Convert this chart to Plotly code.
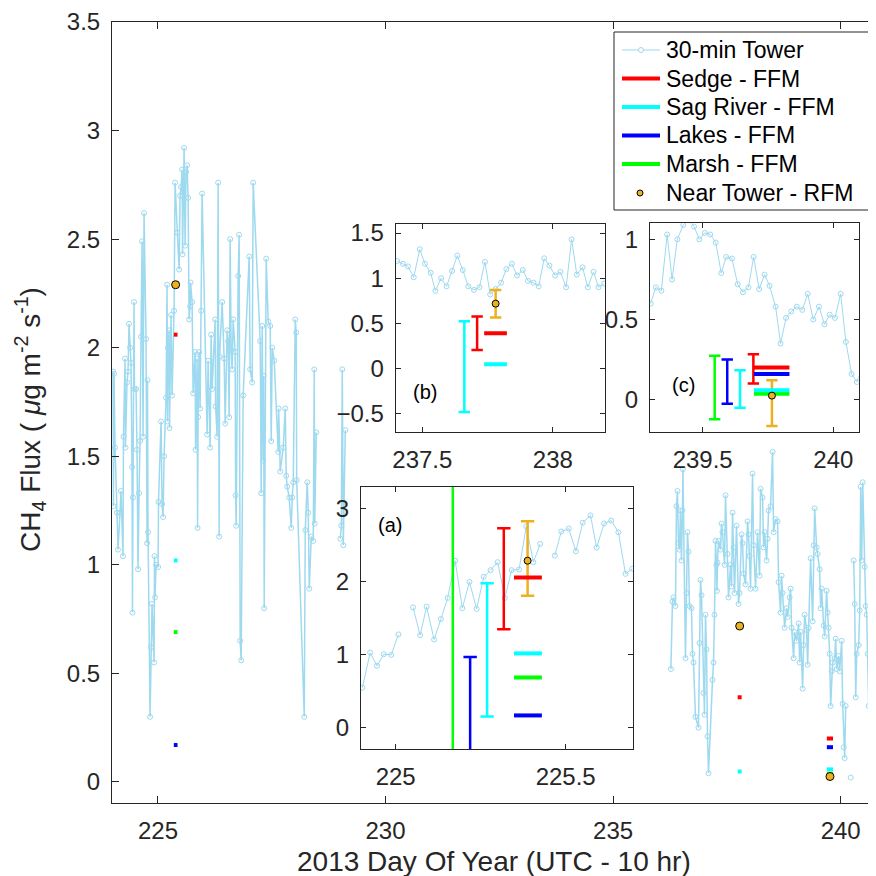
import plotly.graph_objects as go

W = H = 876
OFF = 8  # page body margin of the browser: shift everything up/left by this much
FONT = "Liberation Sans"
INK = "#262626"
TOWER_C = "#9dd9ef"
RED, CYAN, BLUE, GREEN, ORANGE = "#ff0000", "#00ffff", "#0000ff", "#00ff00", "#edb120"

# ---------------- main-panel 30-min tower series ----------------
tower_day_left = [224.012, 224.022, 224.034, 224.056, 224.100, 224.122, 224.166, 224.188, 224.232, 224.242,
                  224.276, 224.286, 224.320, 224.342, 224.364, 224.386, 224.408, 224.430, 224.440, 224.450,
                  224.474, 224.484, 224.518, 224.540, 224.562, 224.584, 224.606, 224.628, 224.650, 224.672,
                  224.694, 224.738, 224.760, 224.770, 224.782, 224.826, 224.848, 224.870, 224.914, 224.924,
                  224.936, 224.958, 225.002, 225.012, 225.068, 225.090, 225.112, 225.134, 225.178, 225.200,
                  225.210, 225.222, 225.244, 225.254, 225.288, 225.310, 225.354, 225.376, 225.420, 225.464,
                  225.486, 225.508, 225.530, 225.540, 225.574, 225.596, 225.618, 225.640, 225.662, 225.684,
                  225.706, 225.716, 225.750, 225.772, 225.816, 225.826, 225.860, 225.870, 225.882, 225.904,
                  225.926, 225.948, 225.970, 226.080, 226.102, 226.146, 226.168, 226.190, 226.256, 226.266,
                  226.300, 226.322, 226.344, 226.354, 226.410, 226.454, 226.476, 226.520, 226.542, 226.564,
                  226.586, 226.608, 226.630, 226.652, 226.696, 226.706, 226.718, 226.762, 226.784, 226.806,
                  226.828, 226.872, 227.004, 227.026, 227.070, 227.092, 227.246, 227.268, 227.290, 227.312,
                  227.322, 227.334, 227.378, 227.422, 227.466, 227.488, 227.510, 227.554, 227.642, 227.652,
                  227.686, 227.752, 227.796, 227.818, 227.840, 227.884, 227.928, 227.950, 227.972, 228.016,
                  228.038, 228.048, 228.214, 228.236, 228.280, 228.302, 228.324, 228.368, 228.412, 228.434,
                  228.444, 228.478, None, 229.006, 229.028, 229.050, 229.072, 229.116]
tower_flux_left = [1.89, 1.27, 1.88, 1.54, 1.24, 1.07, 1.24, 1.34, 1.04, 1.59,
                   1.95, 1.54, 1.84, 1.89, 2.11, 2.00, 1.93, 1.45, 0.78, 1.31,
                   2.21, 1.81, 1.81, 1.53, 0.98, 1.33, 1.57, 2.05, 2.49, 1.59,
                   2.62, 2.04, 1.10, 1.85, 1.15, 0.30, 0.62, 0.82, 0.55, 1.04,
                   0.85, 1.00, 0.99, 1.29, 1.66, 1.28, 1.22, 1.50, 1.77, 2.29,
                   1.66, 2.00, 2.08, 1.63, 2.15, 1.78, 2.17, 2.76, 2.53, 2.36,
                   2.70, 2.74, 2.82, 2.43, 2.92, 2.47, 2.81, 2.84, 2.69, 2.13,
                   2.19, 2.30, 2.21, 1.79, 1.98, 1.53, 1.95, 1.17, 1.68, 1.98,
                   1.72, 2.17, 2.71, 1.60, 1.94, 1.54, 2.06, 1.81, 2.13, 1.73,
                   1.59, 2.76, 1.13, 1.96, 2.21, 1.95, 1.65, 2.08, 2.03, 1.68,
                   2.50, 1.99, 1.90, 2.13, 1.98, 1.32, 1.18, 2.33, 2.52, 0.65,
                   0.56, 1.78, 2.42, 1.90, 1.84, 2.76, 2.03, 1.33, 2.10, 1.48,
                   1.87, 0.80, 2.41, 2.12, 2.10, 1.57, 2.00, 1.94, 1.52, 1.72,
                   1.43, 1.54, 1.72, 1.41, 1.36, 1.31, 1.17, 1.31, 1.38, 2.13,
                   2.07, 1.39, 0.30, 1.16, 1.38, 1.24, 0.89, 1.13, 1.11, 1.90,
                   1.19, 1.61, None, 1.12, 1.18, 1.90, 1.09, 1.62]

tower_day_right = [236.270, 236.304, 236.326, 236.370, 236.392, 236.414, 236.436, 236.458, 236.480, 236.502,
                   236.524, 236.534, 236.590, 236.612, 236.634, 236.656, 236.678, 236.722, 236.744, 236.766,
                   236.810, 236.876, 236.898, 236.920, 236.942, 236.986, 237.008, 237.030, 237.052, 237.074,
                   237.096, 237.184, 237.206, 237.228, 237.250, 237.272, 237.282, 237.294, 237.316, 237.360,
                   237.382, 237.404, 237.448, 237.470, 237.514, 237.536, 237.580, 237.602, 237.624, 237.646,
                   237.668, 237.712, 237.756, 237.778, 237.822, 237.844, 237.866, 237.910, 237.954, 237.976,
                   237.998, 238.020, 238.064, 238.086, 238.130, 238.174, 238.218, 238.240, 238.284, 238.306,
                   238.328, 238.372, 238.394, 238.416, 238.460, 238.504, 238.526, 238.570, 238.614, 238.636,
                   238.680, 238.702, 238.724, 238.768, 238.812, 238.834, 238.878, 238.900, 238.922, 238.966,
                   238.988, 239.032, 239.076, 239.098, 239.120, 239.164, 239.186, 239.208, 239.252, 239.274,
                   239.296, 239.340, 239.384, 239.406, 239.428, 239.472, 239.494, 239.538, 239.560, 239.582,
                   239.626, 239.648, 239.692, 239.714, 239.736, 239.758, 239.780, 239.802, 239.824, 239.868,
                   239.890, 239.912, 239.956, 239.978, 240.022, 240.044, 240.066, 240.088, 240.110, None,
                   240.220, None, 240.286, 240.308, 240.330, 240.352, 240.396, 240.418, 240.440, 240.462,
                   240.484, 240.528, 240.550, 240.572, 240.594, 240.616, 240.660, 240.682, 240.704, 240.748]
tower_flux_right = [0.52, 0.83, 0.85, 0.81, 1.27, 1.34, 1.10, 1.07, 1.25, 1.02,
                    1.25, 1.44, 0.57, 0.87, 1.15, 1.06, 0.81, 0.80, 0.59, 0.55,
                    0.30, 0.25, 0.64, 0.93, 0.86, 0.41, 0.31, 0.77, 0.61, 0.21,
                    0.04, 0.47, 0.55, 0.77, 1.11, 1.00, 0.88, 1.01, 1.11, 1.07,
                    1.19, 1.15, 1.00, 1.32, 1.05, 0.85, 1.00, 0.90, 1.24, 1.08,
                    0.87, 1.18, 0.82, 0.87, 1.14, 1.10, 0.96, 0.91, 1.20, 1.14,
                    1.04, 0.89, 1.42, 1.09, 0.89, 1.15, 0.95, 1.35, 1.31, 1.08,
                    1.15, 1.02, 1.12, 1.25, 1.27, 1.52, 1.15, 1.21, 1.20, 0.92,
                    0.78, 0.95, 0.87, 0.71, 0.80, 0.76, 0.85, 0.89, 0.71, 0.57,
                    0.69, 0.65, 0.73, 0.55, 0.69, 0.43, 0.63, 0.77, 0.70, 0.54,
                    0.71, 1.03, 0.74, 1.09, 1.26, 1.08, 1.05, 0.98, 0.80, 0.89,
                    0.72, 0.67, 0.88, 0.78, 0.71, 0.59, 0.35, 0.51, 0.55, 0.57,
                    0.66, 0.52, 0.58, 0.51, 0.65, 0.36, 0.16, 0.11, 0.35, None,
                    0.02, None, 1.02, 0.82, 0.39, 0.59, 0.63, 0.79, 1.36, 1.02,
                    1.38, 0.99, 0.81, 0.77, 0.59, 0.35, 0.94, 1.14, 1.02, 0.46]

# ---------------- inset tower series ----------------
inset_a_day = [224.902, 224.925, 224.945, 224.965, 224.987, 225.008, None, 225.051, 225.072, 225.091,
               225.113, 225.133, 225.153, 225.175, 225.196, 225.217, 225.238, 225.259, 225.279, 225.300,
               225.321, 225.341, 225.363, 225.384, 225.405, 225.425, None, 225.468, 225.487, 225.509,
               225.530, 225.550, 225.573, 225.591, 225.613, 225.634, 225.655, 225.676, 225.696]
inset_a_flux = [0.55, 1.03, 0.85, 1.01, 1.00, 1.28, None, 1.65, 1.27, 1.66,
                1.21, 1.49, 1.78, 2.29, 1.64, 2.00, 1.63, 2.07, 2.16, 2.27,
                1.78, 2.16, 2.17, 2.76, 2.27, 2.52, None, 2.36, 2.69, 2.73,
                2.42, 2.81, 2.91, 2.47, 2.80, 2.84, 2.68, 2.11, 2.18]

inset_b_day = [237.404, 237.426, 237.445, 237.467, 237.490, 237.510, 237.532, 237.550, 237.572, 237.593,
               237.614, 237.634, 237.655, 237.676, 237.698, 237.719, 237.740, 237.760, 237.781, 237.802,
               237.822, 237.843, 237.863, 237.885, 237.905, 237.926, 237.946, 237.967, 237.987, 238.009,
               238.029, 238.051, 238.072, 238.092, 238.114, 238.134, 238.156, 238.175, 238.197]
inset_b_flux = [1.19, 1.16, 1.13, 1.01, 1.32, 1.16, 1.06, 0.86, 1.00, 0.91,
                1.08, 1.25, 1.09, 0.91, 0.87, 0.90, 1.18, 0.82, 0.88, 0.95,
                1.10, 1.16, 1.03, 1.09, 0.97, 0.95, 0.91, 1.22, 1.14, 1.03,
                1.07, 0.90, 1.43, 1.04, 1.12, 0.90, 1.07, 0.90, 0.94]

inset_c_day = [239.301, 239.321, 239.342, 239.364, 239.383, 239.403, 239.426, 239.446, 239.467, 239.487,
               239.508, 239.529, 239.550, 239.571, 239.590, 239.612, 239.634, 239.654, 239.675, 239.695,
               239.716, 239.737, 239.756, 239.779, 239.798, 239.819, 239.839, 239.860, 239.881, 239.902,
               239.923, 239.945, 239.966, 239.986, 240.006, 240.028, 240.048, 240.070, 240.090, 240.110]
inset_c_flux = [0.60, 0.70, 0.68, 1.03, 0.75, 1.00, 1.09, 1.12, 1.08, 1.00,
                1.04, 1.03, 0.98, 0.79, 0.89, 0.88, 0.72, 0.67, 0.70, 0.89,
                0.69, 0.78, 0.71, 0.58, 0.35, 0.51, 0.55, 0.58, 0.56, 0.66,
                0.50, 0.58, 0.47, 0.53, 0.51, 0.66, 0.36, 0.16, 0.11, 0.20]

# ---------------- chamber / RFM events (a), (b), (c) ----------------
event_start = [225.348, 237.737, 239.696]
event_end = [225.430, 237.824, 239.832]
sedge_mean = [2.06, 0.39, 0.20]
sag_mean = [1.02, 0.048, 0.058]
lakes_mean = [0.17, None, 0.16]
marsh_mean = [0.69, None, 0.0375]
rfm_time = [225.388, 237.781, 239.765]
rfm_flux = [2.29, 0.718, 0.025]
rfm_lo = [1.81, 0.564, -0.165]
rfm_hi = [2.83, 0.869, 0.121]
sedge_err_t = [225.318, 237.710, 239.694]
sedge_lo = [1.35, 0.206, 0.10]
sedge_hi = [2.735, 0.575, 0.283]
sag_err_t = [225.269, 237.661, 239.643]
sag_lo = [0.155, -0.483, -0.05]
sag_hi = [1.98, 0.523, 0.183]
lakes_err_t = [225.219, None, 239.594]
lakes_lo = [-0.63, None, -0.025]
lakes_hi = [0.97, None, 0.25]
marsh_err_t = [225.168, None, 239.546]
marsh_lo = [-2.3, None, -0.123]
marsh_hi = [3.7, None, 0.273]

sites = [
    ("Sedge - FFM", RED, sedge_mean, sedge_err_t, sedge_lo, sedge_hi),
    ("Sag River - FFM", CYAN, sag_mean, sag_err_t, sag_lo, sag_hi),
    ("Lakes - FFM", BLUE, lakes_mean, lakes_err_t, lakes_lo, lakes_hi),
    ("Marsh - FFM", GREEN, marsh_mean, marsh_err_t, marsh_lo, marsh_hi),
]
legend_names = ["30-min Tower", "Sedge - FFM", "Sag River - FFM", "Lakes - FFM", "Marsh - FFM",
                "Near Tower - RFM"]

# ---------------- tick labels / ranges ----------------
main_xticks = [225, 230, 235, 240]
main_yticks = [0, 0.5, 1, 1.5, 2, 2.5, 3, 3.5]
main_xrange = [223.99, 240.952]
main_yrange = [-0.097, 3.5]
inset_xticks = [[225, 225.5], [237.5, 238], [239.5, 240]]
inset_yticks = [[0, 1, 2, 3], [-0.5, 0, 0.5, 1, 1.5], [0, 0.5, 1]]
inset_xrange = [[224.898, 225.698], [237.398, 238.200], [239.2985, 240.097]]
inset_yrange = [[-0.29, 3.30], [-0.70, 1.60], [-0.20, 1.10]]
inset_labels = ["(a)", "(b)", "(c)"]


def fx(px):
    return (px - OFF) / W


def fy(py):
    return 1 - (py - OFF) / H


fig = go.Figure()


def seg(mean, k_list):
    xs, ys = [], []
    for k in k_list:
        if mean[k] is None:
            continue
        xs += [event_start[k], event_end[k], None]
        ys += [mean[k], mean[k], None]
    return xs, ys


# main panel
fig.add_trace(go.Scatter(
    x=tower_day_left + [None] + tower_day_right,
    y=tower_flux_left + [None] + tower_flux_right,
    mode="lines+markers", name=legend_names[0],
    line=dict(color=TOWER_C, width=1.5),
    marker=dict(symbol="circle-open", size=5, color=TOWER_C, line=dict(width=1, color=TOWER_C)),
    xaxis="x", yaxis="y"))
for name, col, mean, et, lo, hi in sites:
    xs, ys = seg(mean, [0, 1, 2])
    fig.add_trace(go.Scatter(x=xs, y=ys, mode="lines", name=name,
                             line=dict(color=col, width=4), xaxis="x", yaxis="y"))
fig.add_trace(go.Scatter(x=rfm_time, y=rfm_flux, mode="markers", name=legend_names[5],
                         marker=dict(size=8, color=ORANGE, line=dict(width=1, color="black")),
                         xaxis="x", yaxis="y"))

inset_series = [(inset_a_day, inset_a_flux), (inset_b_day, inset_b_flux), (inset_c_day, inset_c_flux)]
cap_w = [6.7, 5.7, 5.7]
for k in range(3):
    xa, ya = "x%d" % (k + 2), "y%d" % (k + 2)
    d, f = inset_series[k]
    fig.add_trace(go.Scatter(x=d, y=f, mode="lines+markers",
                             line=dict(color=TOWER_C, width=1),
                             marker=dict(symbol="circle-open", size=5, color=TOWER_C,
                                         line=dict(width=1, color=TOWER_C)),
                             xaxis=xa, yaxis=ya))
    for name, col, mean, et, lo, hi in reversed(sites):
        if et[k] is None:
            continue
        mid = (lo[k] + hi[k]) / 2
        fig.add_trace(go.Scatter(x=[et[k]], y=[mid], mode="markers",
                                 marker=dict(size=2, opacity=0, color=col),
                                 error_y=dict(type="data", symmetric=False, array=[hi[k] - mid],
                                              arrayminus=[mid - lo[k]], color=col,
                                              thickness=2.5, width=cap_w[k]),
                                 xaxis=xa, yaxis=ya))
    mid = (rfm_lo[k] + rfm_hi[k]) / 2
    fig.add_trace(go.Scatter(x=[rfm_time[k]], y=[mid], mode="markers",
                             marker=dict(size=2, opacity=0, color=ORANGE),
                             error_y=dict(type="data", symmetric=False, array=[rfm_hi[k] - mid],
                                          arrayminus=[mid - rfm_lo[k]], color=ORANGE,
                                          thickness=2.5, width=cap_w[k]),
                             xaxis=xa, yaxis=ya))
    for name, col, mean, et, lo, hi in reversed(sites):
        xs, ys = seg(mean, [k])
        if xs:
            fig.add_trace(go.Scatter(x=xs, y=ys, mode="lines",
                                     line=dict(color=col, width=4), xaxis=xa, yaxis=ya))
    fig.add_trace(go.Scatter(x=[rfm_time[k]], y=[rfm_flux[k]], mode="markers",
                             marker=dict(size=7, color=ORANGE, line=dict(width=1, color="black")),
                             xaxis=xa, yaxis=ya))

tickfont = dict(family=FONT, size=24, color=INK)
axis_common = dict(showgrid=False, zeroline=False, showline=True, linecolor=INK, linewidth=1,
                   ticks="inside", tickcolor=INK, tickwidth=1, tickfont=tickfont, automargin=False,
                   ticklabelstandoff=6)

layout = dict(
    width=W, height=H, margin=dict(l=0, r=0, t=0, b=0),
    paper_bgcolor="white", plot_bgcolor="white",
    font=dict(family=FONT, color=INK),
    showlegend=False,
    xaxis=dict(domain=[fx(112), 1.0], range=main_xrange, tickvals=main_xticks,
               mirror="ticks", ticklen=7, anchor="y", **axis_common),
    yaxis=dict(domain=[fy(803), fy(22)], range=main_yrange, tickvals=main_yticks,
               ticklen=7, anchor="x", **axis_common),
)
inset_box = [((361, 633), (487, 749)), ((395.7, 605), (224, 431.7)), ((650, 858.7), (223.3, 431.7))]
shapes = []
for k in range(3):
    (xl, xr), (yt, yb) = inset_box[k]
    layout["xaxis%d" % (k + 2)] = dict(domain=[fx(xl), fx(xr)], range=inset_xrange[k], tickvals=inset_xticks[k],
                                      mirror="ticks", ticklen=5, anchor="y%d" % (k + 2), **axis_common)
    layout["yaxis%d" % (k + 2)] = dict(domain=[fy(yb), fy(yt)], range=inset_yrange[k], tickvals=inset_yticks[k],
                                      mirror="ticks", ticklen=5, anchor="x%d" % (k + 2), **axis_common)
    shapes.append(dict(type="rect", xref="x%d" % (k + 2), yref="y%d" % (k + 2), layer="below",
                       x0=inset_xrange[k][0], x1=inset_xrange[k][1],
                       y0=inset_yrange[k][0], y1=inset_yrange[k][1],
                       fillcolor="white", line=dict(width=0)))

# ---------------- legend box (drawn in figure pixels) ----------------
annotations = []
leg_left, leg_right, leg_top, leg_bottom = 614, 880, 32, 210
shapes.append(dict(type="rect", xref="paper", yref="paper", layer="above",
                   x0=fx(leg_left), x1=fx(leg_right), y0=fy(leg_bottom), y1=fy(leg_top),
                   fillcolor="white", line=dict(color=INK, width=1)))
row_y = [50, 78.5, 107, 135.5, 164, 193]
leg_colors = [TOWER_C, RED, CYAN, BLUE, GREEN, ORANGE]
for i, name in enumerate(legend_names):
    yy = row_y[i]
    if i == 0:
        shapes.append(dict(type="line", xref="paper", yref="paper", layer="above",
                           x0=fx(622), x1=fx(660), y0=fy(yy), y1=fy(yy),
                           line=dict(color=TOWER_C, width=1)))
        shapes.append(dict(type="circle", xref="paper", yref="paper", layer="above",
                           x0=fx(638.5), x1=fx(643.5), y0=fy(yy + 2.5), y1=fy(yy - 2.5),
                           fillcolor="white", line=dict(color=TOWER_C, width=1)))
    elif i < 5:
        shapes.append(dict(type="line", xref="paper", yref="paper", layer="above",
                           x0=fx(622), x1=fx(660), y0=fy(yy), y1=fy(yy),
                           line=dict(color=leg_colors[i], width=4)))
    else:
        shapes.append(dict(type="circle", xref="paper", yref="paper", layer="above",
                           x0=fx(637), x1=fx(643), y0=fy(yy + 3), y1=fy(yy - 3),
                           fillcolor=ORANGE, line=dict(color="black", width=1)))
    annotations.append(dict(text=name, x=fx(664), y=fy(yy), xref="paper", yref="paper",
                            xanchor="left", yanchor="middle", showarrow=False,
                            font=dict(family=FONT, size=23, color="black")))
layout["shapes"] = shapes

label_pos = [(390, 525), (425, 392), (683, 385)]
for k in range(3):
    annotations.append(dict(text=inset_labels[k], x=fx(label_pos[k][0]), y=fy(label_pos[k][1]),
                            xref="paper", yref="paper", showarrow=False,
                            xanchor="center", yanchor="middle",
                            font=dict(family=FONT, size=20, color="black")))
annotations.append(dict(text="2013 Day Of Year (UTC - 10 hr)", x=fx(493.5), y=fy(861),
                        xref="paper", yref="paper", showarrow=False,
                        xanchor="center", yanchor="middle",
                        font=dict(family=FONT, size=28, color=INK)))
annotations.append(dict(text="CH<sub>4</sub> Flux ( <i>μ</i>g m<sup>-2</sup> s<sup>-1</sup>)",
                        x=fx(30), y=fy(420), xref="paper", yref="paper", showarrow=False,
                        xanchor="center", yanchor="middle",
                        textangle=-90, font=dict(family=FONT, size=28, color=INK)))
layout["annotations"] = annotations

fig.update_layout(**layout)
fig.write_html("out.html")
